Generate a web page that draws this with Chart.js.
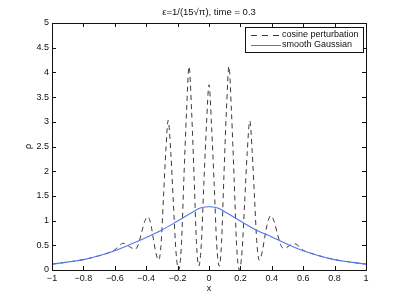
<!DOCTYPE html>
<html lang="en">
<head>
    <meta charset="UTF-8">
    <title>Density at time 0.3</title>
    <script src="https://cdn.jsdelivr.net/npm/chart.js"></script>
    <style>
        body { margin: 0; background: #fff; }
        #wrap { width: 405px; height: 305px; }
    </style>
</head>
<body>
    <div id="wrap"><canvas id="rhoChart" width="405" height="305"></canvas></div>

    <script>
        // smooth Gaussian
        const gaussX = [-1, -0.9, -0.8, -0.7, -0.6, -0.5, -0.4, -0.3, -0.2, -0.1, -0.05, 0,
                        0.05, 0.1, 0.2, 0.3, 0.4, 0.5, 0.6, 0.7, 0.8, 0.9, 1];
        const gaussY = [0.12, 0.16, 0.21, 0.29, 0.39, 0.52, 0.66, 0.81, 0.99, 1.18, 1.26, 1.28,
                        1.26, 1.18, 0.99, 0.81, 0.67, 0.52, 0.39, 0.29, 0.21, 0.16, 0.12];

        // cosine perturbation
        const pertX = [-1, -0.9, -0.8, -0.7, -0.64, -0.6, -0.575, -0.548, -0.528, -0.509, -0.49, -0.47,
                       -0.45, -0.43, -0.41, -0.39, -0.372, -0.355, -0.337, -0.32,
                       -0.305, -0.29, -0.275, -0.26, -0.243, -0.227, -0.21, -0.193,
                       -0.176, -0.16, -0.143, -0.127, -0.111, -0.095, -0.08, -0.065,
                       -0.049, -0.033, -0.016, 0,
                       0.016, 0.033, 0.049, 0.065, 0.08, 0.095, 0.111, 0.127,
                       0.143, 0.16, 0.176, 0.193, 0.21, 0.227, 0.243, 0.26,
                       0.275, 0.29, 0.305, 0.32, 0.337, 0.355, 0.375, 0.395,
                       0.415, 0.435, 0.455, 0.473, 0.492, 0.51, 0.53, 0.548,
                       0.575, 0.6, 0.64, 0.7, 0.8, 0.9, 1];
        const pertY = [0.12, 0.16, 0.21, 0.29, 0.35, 0.41, 0.48, 0.54, 0.52, 0.48, 0.44, 0.42,
                       0.52, 0.75, 0.98, 1.08, 0.95, 0.64, 0.33, 0.2,
                       0.54, 1.47, 2.41, 3.03, 2.36, 1.36, 0.36, 0,
                       0.49, 1.85, 3.21, 4.12, 3.23, 1.9, 0.56, 0.08,
                       0.52, 1.73, 2.94, 3.75,
                       2.94, 1.73, 0.52, 0.08, 0.56, 1.9, 3.23, 4.12,
                       3.21, 1.85, 0.49, 0, 0.36, 1.36, 2.36, 3.02,
                       2.4, 1.46, 0.54, 0.2, 0.34, 0.66, 0.98, 1.1,
                       0.98, 0.74, 0.52, 0.44, 0.45, 0.49, 0.52, 0.53,
                       0.47, 0.4, 0.35, 0.29, 0.21, 0.16, 0.12];

        const xTicks = [-1, -0.8, -0.6, -0.4, -0.2, 0, 0.2, 0.4, 0.6, 0.8, 1];
        const yTicks = [0, 0.5, 1, 1.5, 2, 2.5, 3, 3.5, 4, 4.5, 5];

        const titleText = 'ε=1/(15√π), time = 0.3';
        const seriesNames = ['cosine perturbation', 'smooth Gaussian'];

        const FONT = '"Liberation Sans", Arial, sans-serif';
        const DASH = [5, 4];
        const BLUE = '#5274f2';
        const GREY = '#3a3a3a';

        function fmt(v) {
            const s = String(Math.round(v * 10) / 10);
            return s.replace('-', '\u2212');
        }

        // MATLAB style frame, inward ticks, title, axis labels and legend
        const frame = {
            id: 'frame',
            afterDraw(chart) {
                const c = chart.ctx;
                const a = chart.chartArea;
                const xs = chart.scales.x, ys = chart.scales.y;
                c.save();
                c.strokeStyle = '#111';
                c.lineWidth = 1;
                c.strokeRect(Math.round(a.left) + 0.5, Math.round(a.top) + 0.5,
                    Math.round(a.right - a.left), Math.round(a.bottom - a.top));
                c.beginPath();
                xTicks.forEach(v => {
                    const px = Math.round(xs.getPixelForValue(v)) + 0.5;
                    c.moveTo(px, a.bottom); c.lineTo(px, a.bottom - 4);
                    c.moveTo(px, a.top); c.lineTo(px, a.top + 4);
                });
                yTicks.forEach(v => {
                    const py = Math.round(ys.getPixelForValue(v)) + 0.5;
                    c.moveTo(a.left, py); c.lineTo(a.left + 4, py);
                    c.moveTo(a.right, py); c.lineTo(a.right - 4, py);
                });
                c.stroke();

                c.fillStyle = '#111';
                c.textAlign = 'center';
                c.textBaseline = 'middle';
                c.font = '9.5px ' + FONT;
                c.fillText(titleText, (a.left + a.right) / 2, 12);
                c.font = '9px ' + FONT;
                c.fillText('x', (a.left + a.right) / 2, 289);
                c.save();
                c.translate(29, (a.top + a.bottom) / 2);
                c.rotate(-Math.PI / 2);
                c.fillText('ρ', 0, 0);
                c.restore();

                // legend box
                const lx = 245.5, ly = 27.5, lw = 118, lh = 25;
                c.fillStyle = '#fff';
                c.fillRect(lx, ly, lw, lh);
                c.strokeRect(lx, ly, lw, lh);
                c.strokeStyle = GREY;
                c.setLineDash([6, 5]);
                c.beginPath(); c.moveTo(251, 35.5); c.lineTo(281, 35.5); c.stroke();
                c.setLineDash([]);
                c.strokeStyle = BLUE;
                c.beginPath(); c.moveTo(251, 45.5); c.lineTo(281, 45.5); c.stroke();
                c.fillStyle = '#111';
                c.textAlign = 'left';
                c.fillText(seriesNames[0], 282, 35);
                c.fillText(seriesNames[1], 282, 45);
                c.restore();
            }
        };

        const ctx = document.getElementById('rhoChart').getContext('2d');
        new Chart(ctx, {
            type: 'line',
            data: {
                datasets: [{
                    label: seriesNames[1],
                    data: gaussX.map((x, i) => ({ x: x, y: gaussY[i] })),
                    borderColor: BLUE,
                    borderWidth: 1.1,
                    pointRadius: 0,
                    tension: 0.4
                }, {
                    label: seriesNames[0],
                    data: pertX.map((x, i) => ({ x: x, y: pertY[i] })),
                    borderColor: GREY,
                    borderWidth: 1,
                    borderDash: DASH,
                    pointRadius: 0,
                    cubicInterpolationMode: 'monotone'
                }]
            },
            options: {
                responsive: false,
                animation: false,
                layout: { padding: { top: 23, right: 39, left: 0, bottom: 0 } },
                plugins: { legend: { display: false }, tooltip: { enabled: false } },
                scales: {
                    x: {
                        type: 'linear',
                        min: -1, max: 1,
                        grid: { display: false, drawTicks: false },
                        border: { display: false },
                        afterBuildTicks: s => { s.ticks = xTicks.map(v => ({ value: v })); },
                        afterFit: s => { s.height = 35; },
                        ticks: {
                            padding: 3,
                            maxRotation: 0,
                            autoSkip: false,
                            color: '#111',
                            font: { family: FONT, size: 9 },
                            callback: v => fmt(v)
                        }
                    },
                    y: {
                        min: 0, max: 5,
                        grid: { display: false, drawTicks: false },
                        border: { display: false },
                        afterBuildTicks: s => { s.ticks = yTicks.map(v => ({ value: v })); },
                        afterFit: s => { s.width = 52; },
                        ticks: {
                            padding: 3,
                            autoSkip: false,
                            color: '#111',
                            font: { family: FONT, size: 9 },
                            callback: v => fmt(v)
                        }
                    }
                }
            },
            plugins: [frame]
        });
    </script>
</body>
</html>
